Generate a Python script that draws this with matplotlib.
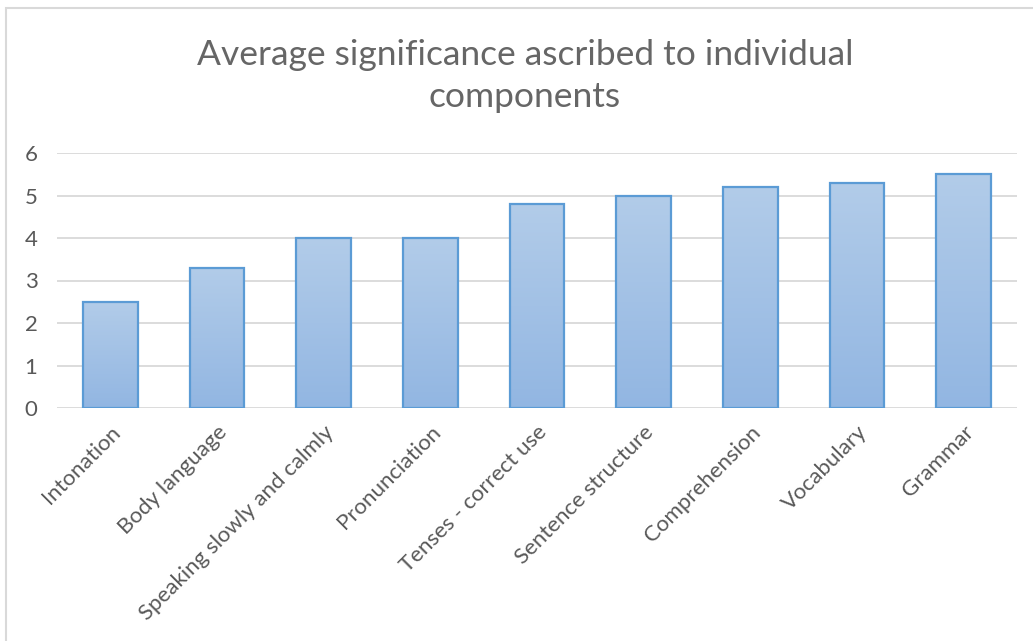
import matplotlib
matplotlib.use("Agg")
import matplotlib.pyplot as plt
import numpy as np
from matplotlib.patches import Rectangle
from matplotlib.colors import LinearSegmentedColormap

categories = ["Intonation", "Body language", "Speaking slowly and calmly",
              "Pronunciation", "Tenses - correct use", "Sentence structure",
              "Comprehension", "Vocabulary", "Grammar"]
values = [2.5, 3.3, 4.0, 4.0, 4.8, 5.0, 5.2, 5.3, 5.5]
y_ticks = [0, 1, 2, 3, 4, 5, 6]
title = "Average significance ascribed to individual\ncomponents"

plt.rcParams["font.family"] = ["Lato", "DejaVu Sans"]
text_grey = "#595959"

W, H = 1033, 641
fig = plt.figure(figsize=(W / 100, H / 100), dpi=100)
fig.patch.set_facecolor("white")

# outer chart-area frame (only top and left edges fall inside the canvas)
fig.add_artist(Rectangle((6 / W, -0.1), 1.2, (H - 8) / H + 0.1,
                         transform=fig.transFigure, fill=False,
                         edgecolor="#D9D9D9", linewidth=1.5))

ax = fig.add_axes([57 / W, (H - 408) / H, (1017 - 57) / W, (408 - 153) / H])
x = np.arange(len(categories))

for s in ax.spines.values():
    s.set_visible(False)
ax.set_yticks(y_ticks)
ax.yaxis.grid(True, color="#D9D9D9", linewidth=1.3)
ax.set_axisbelow(True)
ax.tick_params(axis="both", length=0, labelsize=16, labelcolor=text_grey)
ax.tick_params(axis="y", pad=14)

bars = ax.bar(x, values, width=0.51, facecolor="none",
              edgecolor="#5B9BD5", linewidth=1.6, zorder=3)

grad = LinearSegmentedColormap.from_list("bar_grad", ["#92B6E2", "#B2CCE9"])
g = np.linspace(0, 1, 256).reshape(-1, 1)
for b in bars:
    x0, w, h = b.get_x(), b.get_width(), b.get_height()
    im = ax.imshow(g, cmap=grad, origin="lower", aspect="auto",
                   extent=(x0, x0 + w, 0, h), zorder=2)
    im.set_clip_path(b)
ax.set_xlim(-0.5, len(categories) - 0.5)
ax.set_ylim(0, 6)

ax.set_xticks(x)
ax.set_xticklabels(categories, rotation=45, ha="right",
                   rotation_mode="anchor")
ax.tick_params(axis="x", pad=10)

fig.text(525 / W, 1 - 76 / H, title, ha="center", va="center",
         fontsize=25.5, color="#666666", linespacing=1.38)

fig.savefig("out.png", dpi=100, facecolor="white")
